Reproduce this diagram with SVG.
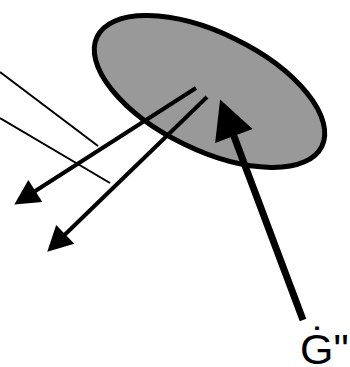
<svg xmlns="http://www.w3.org/2000/svg" width="350" height="367" viewBox="0 0 350 367">
<style>
.thin{stroke:#000;stroke-width:2;fill:none}
.ray{stroke:#000;stroke-width:4;fill:none;stroke-linecap:butt}
.big{stroke:#000;stroke-width:7;fill:none;stroke-linecap:butt}
.lbl{font-family:"Liberation Sans",Arial,sans-serif;font-size:43px;fill:#000}
</style>
<defs>
<marker id="hs" markerUnits="userSpaceOnUse" markerWidth="30" markerHeight="30" viewBox="0 -15 30 30" refX="1" refY="0" orient="auto" overflow="visible">
<path d="M0,-13 L25,0 L0,13 Z" fill="#000"/>
</marker>
<marker id="hb" markerUnits="userSpaceOnUse" markerWidth="44" markerHeight="44" viewBox="0 -22 44 44" refX="1" refY="0" orient="auto" overflow="visible">
<path d="M0,-20 L39,0 L0,20 Z" fill="#000"/>
</marker>
</defs>
<g id="surface">
<ellipse cx="209.5" cy="91.5" rx="125" ry="58.5" transform="rotate(26 209.5 91.5)" fill="#999999" stroke="#000" stroke-width="5"/>
</g>
<g id="connectors">
<line class="thin" x1="0" y1="72" x2="98" y2="146"/>
<line class="thin" x1="0" y1="118" x2="110" y2="183"/>
<line class="ray" x1="196" y1="88" x2="34.5" y2="191.5" marker-end="url(#hs)"/>
<line class="ray" x1="207" y1="97" x2="64.5" y2="235" marker-end="url(#hs)"/>
<line class="big" x1="303" y1="320" x2="233.5" y2="135" marker-end="url(#hb)"/>
</g>
<g id="label">
<text class="lbl" x="300" y="364">Ġ"</text>
</g>
</svg>
